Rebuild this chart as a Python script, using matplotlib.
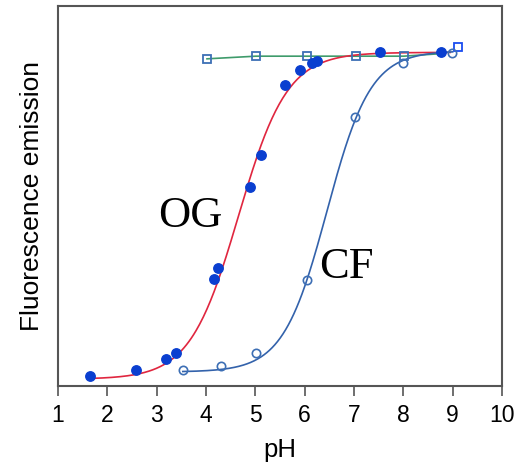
import matplotlib
matplotlib.use('Agg')
import matplotlib.pyplot as plt
import numpy as np

# Oregon Green (filled circles)
og_ph = [1.65, 2.58, 3.19, 3.39, 4.16, 4.24, 4.89, 5.12, 5.60, 5.91, 6.15, 6.25, 7.53, 8.76]
og_em = [0.026, 0.042, 0.071, 0.087, 0.282, 0.311, 0.524, 0.608, 0.792, 0.832, 0.850, 0.855, 0.879, 0.879]

# carboxyfluorescein (open circles)
cf_ph = [3.53, 4.30, 5.01, 6.05, 7.02, 7.99, 8.99]
cf_em = [0.042, 0.053, 0.087, 0.279, 0.708, 0.850, 0.876]

# squares (flat series)
sq_ph = [4.02, 5.01, 6.05, 7.04, 8.01]
sq_em = [0.861, 0.868, 0.868, 0.868, 0.868]
sq_last_ph, sq_last_em = 9.11, 0.892

# sigmoid fit parameters: bottom, top, pKa, slope
og_fit = (0.018, 0.878, 4.66, 0.88)
cf_fit = (0.037, 0.882, 6.45, 0.98)


def sigmoid(x, p):
    b, t, pk, n = p
    return b + (t - b) / (1 + 10 ** (n * (pk - x)))


fig = plt.figure(figsize=(5.24, 4.63), dpi=100)
ax = fig.add_axes([0.1107, 0.1663, 0.8473, 0.8207])

x1 = np.linspace(og_ph[0], 8.95, 300)
ax.plot(x1, sigmoid(x1, og_fit), color='#e0263f', lw=1.2, zorder=2)
x2 = np.linspace(cf_ph[0], 9.0, 300)
ax.plot(x2, sigmoid(x2, cf_fit), color='#3362ab', lw=1.2, zorder=2)
ax.plot(sq_ph + [8.8], sq_em + [0.875], color='#3f9b6b', lw=1.2, zorder=1)

ax.plot(og_ph, og_em, 'o', ms=6.8, color='#0a3fd0', zorder=4)
ax.plot(cf_ph, cf_em, 'o', ms=6, mfc='none', mec='#3d6fb5', mew=1.2, zorder=4)
ax.plot(sq_ph, sq_em, 's', ms=6, mfc='none', mec='#3d6fb5', mew=1.3, zorder=3)
ax.plot([sq_last_ph], [sq_last_em], 's', ms=6, mfc='none', mec='#1a4cf0', mew=1.3, zorder=3)

ax.text(3.02, 0.418, 'OG', family='Liberation Serif', fontsize=32)
ax.text(6.30, 0.285, 'CF', family='Liberation Serif', fontsize=32)

ax.set_xlim(1, 10)
ax.set_ylim(0, 1)
ax.set_xticks(range(1, 11))
ax.set_yticks([])
ax.tick_params(axis='x', direction='out', length=7, width=1.2, color='#555555',
               labelsize=16.5, pad=6)
for lab in ax.get_xticklabels():
    lab.set_family('Liberation Sans')
for s in ax.spines.values():
    s.set_color('#555555')
    s.set_linewidth(1.5)

ax.set_xlabel('pH', family='Liberation Sans', fontsize=18.5, labelpad=8)
ax.set_ylabel('Fluorescence emission', family='Liberation Sans', fontsize=19, labelpad=10)

fig.savefig('out.png', dpi=100)
